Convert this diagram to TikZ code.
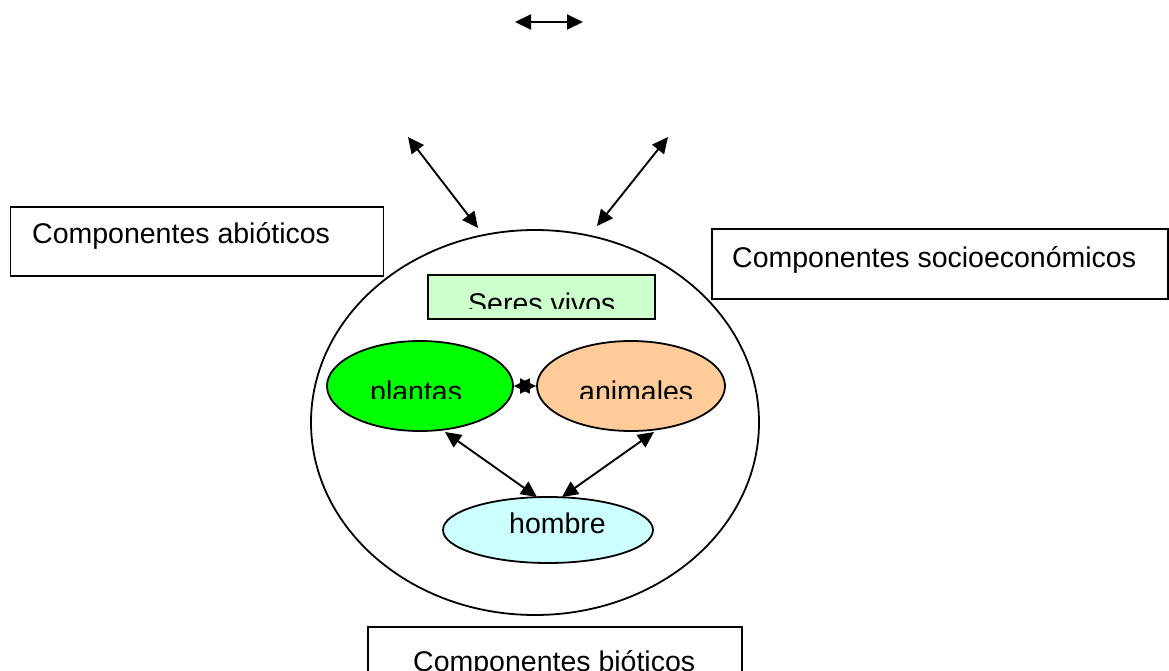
\documentclass[tikz,border=0pt]{standalone}
\usepackage{fontspec}
\setmainfont{Liberation Sans}
\usetikzlibrary{shapes.geometric,arrows.meta}

\definecolor{vivosfill}{HTML}{CCFFCC}
\definecolor{plantfill}{HTML}{00FF00}
\definecolor{animalfill}{HTML}{FFCC99}
\definecolor{manfill}{HTML}{CCFFFF}

\tikzset{
  label text/.style={inner sep=0pt, anchor=base west, font=\fontsize{28.5}{34}\selectfont},
  boxshape/.style={draw, line width=1.8pt, fill=white, rectangle, inner sep=0pt},
  oval/.style={draw, line width=1.8pt, ellipse, inner sep=0pt},
  link/.style={line width=1.9pt, {Triangle[length=16pt,width=15pt]}-{Triangle[length=16pt,width=15pt]}},
}

\begin{document}
\begin{tikzpicture}[x=1pt,y=-1pt]
  \clip (0,0) rectangle (1169,671);
  \useasboundingbox (0,0) rectangle (1169,671);

  % large ecosystem ellipse
  \node[oval, minimum width=448pt, minimum height=385pt] (eco) at (535,422.5) {};

  % component boxes
  \node[boxshape, minimum width=373pt, minimum height=69pt] (abio) at (197,241.5) {};
  \node[label text] (abiotxt) at (32,243) {Componentes abióticos};

  \node[boxshape, minimum width=456pt, minimum height=70pt] (socio) at (940,264) {};
  \node[label text] (sociotxt) at (732,267) {Componentes socioeconómicos};

  \node[boxshape, minimum width=374pt, minimum height=80pt] (bio) at (555,667) {};
  \node[label text] (biotxt) at (413,671) {Componentes bióticos};

  % living beings box
  \node[boxshape, fill=vivosfill, minimum width=227pt, minimum height=44pt] (vivos) at (541.5,297) {};
  \begin{scope}
    \clip (428,276) rectangle (655,308);
    \node[label text] (vivostxt) at (468,313) {Seres vivos};
  \end{scope}

  % plants, animals, humans
  \node[oval, fill=plantfill, minimum width=186pt, minimum height=90pt] (plantas) at (420,386) {};
  \node[oval, fill=animalfill, minimum width=188pt, minimum height=90pt] (animales) at (631,386) {};
  \begin{scope}
    \clip (330,340) rectangle (725,398);
    \node[label text] (plantastxt) at (370,401) {plantas};
    \node[label text] (animalestxt) at (579,401) {animales};
  \end{scope}

  \node[oval, fill=manfill, minimum width=210pt, minimum height=66pt] (hombre) at (548,530) {};
  \node[label text] (hombretxt) at (509,533) {hombre};

  % arrow end points outside the nodes
  \coordinate (topL) at (515,22);
  \coordinate (topR) at (583,22);
  \coordinate (abioEnd) at (408,137);
  \coordinate (ecoL) at (478,228);
  \coordinate (socioEnd) at (668,137);
  \coordinate (ecoR) at (597,226);
  \coordinate (plantBot) at (445,432);
  \coordinate (manL) at (537,497);
  \coordinate (animBot) at (654,432);
  \coordinate (manR) at (562,497);

  % connectors
  \draw[link] (topL) -- (topR);
  \draw[link] (abioEnd) -- (ecoL);
  \draw[link] (socioEnd) -- (ecoR);
  \draw[link] (plantas.east) -- (animales.west);
  \draw[link] (plantBot) -- (manL);
  \draw[link] (animBot) -- (manR);
\end{tikzpicture}
\end{document}
